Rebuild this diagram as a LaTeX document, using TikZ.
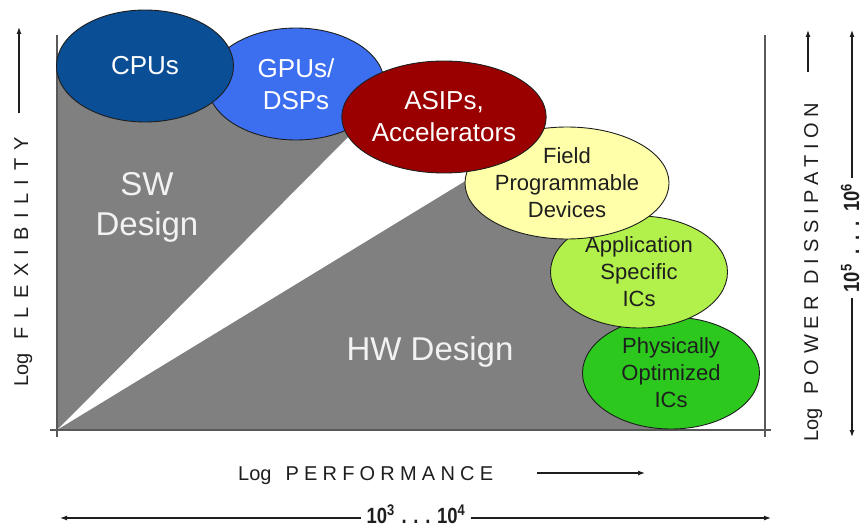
\documentclass[tikz,border=0pt]{standalone}
\usepackage{fontspec}
\usepackage{graphicx}
\setmainfont{Liberation Sans}
\usetikzlibrary{shapes.geometric,arrows.meta}
\definecolor{cpuc}{RGB}{10,78,150}
\definecolor{gpuc}{RGB}{60,110,240}
\definecolor{asipc}{RGB}{155,0,0}
\definecolor{fpgac}{RGB}{255,255,170}
\definecolor{asicc}{RGB}{178,240,75}
\definecolor{physc}{RGB}{45,200,30}
\definecolor{areac}{RGB}{128,128,128}
\definecolor{inkc}{RGB}{30,30,30}
\newcommand\narrowtxt[1]{\scalebox{0.84}[1]{#1}}
\newcommand\rngsep{\hspace{8pt}}
\newcommand\rngsepv{\hspace{11pt}}
\begin{document}
\begin{tikzpicture}[x=1pt,y=-1pt,
  blob/.style={ellipse, draw=inkc, line width=0.9pt, minimum width=177pt, minimum height=112pt, inner sep=0pt, align=center},
  wtext/.style={text=white, font=\fontsize{26}{32}\selectfont},
  btext/.style={text=inkc, font=\fontsize{22}{27}\selectfont},
  design/.style={text=white!95!black, align=center, font=\fontsize{33}{40}\selectfont},
  axisline/.style={draw=black!65, line width=1.1pt},
  arr/.style={draw=inkc, line width=1.2pt, -{Latex[length=7pt,width=5pt]}},
  axlabel/.style={text=inkc, font=\fontsize{20}{20}\selectfont, inner sep=0pt},
  rangelabel/.style={text=inkc, font=\bfseries\fontsize{22}{22}\selectfont, inner sep=5pt}
]
\useasboundingbox (0,0) rectangle (865,527);
% gray design areas
\fill[areac] (57,430) -- (57,66) -- (145,66) -- (296,84) -- (358,127) -- cycle;
\fill[areac] (57,430) -- (490,166) -- (567,183) -- (639,272) -- (671,373) -- (671,430) -- cycle;
% axes
\coordinate (o) at (57,437);
\coordinate (ytop) at (57,35);
\coordinate (xl) at (50,430);
\coordinate (xr) at (771,430);
\coordinate (rb) at (765,437);
\coordinate (rt) at (765,35);
\draw[axisline] (o) -- (ytop);
\draw[axisline] (xl) -- (xr);
\draw[axisline] (rb) -- (rt);
% ellipses
\node[blob, fill=physc, btext] (phys) at (671,373) {Physically\\Optimized\\ICs};
\node[blob, fill=asicc, btext] (asic) at (639,272) {Application\\Specific\\ICs};
\node[blob, fill=fpgac, btext] (fpga) at (567,183) {Field\\Programmable\\Devices};
\node[blob, fill=gpuc, wtext] (gpu) at (296,84) {GPUs/\\DSPs};
\node[blob, fill=asipc, wtext] (asip) at (444,117) {ASIPs,\\Accelerators};
\node[blob, fill=cpuc, wtext] (cpu) at (145,66) {CPUs};
% design labels
\node[design] (sw) at (147,207) {SW\\Design};
\node[design, anchor=base] (hw) at (430,360) {HW Design};
% left axis label
\node[axlabel, rotate=90, anchor=base west] (flex) at (28,387) {Log\hspace{14pt}{\addfontfeature{LetterSpace=43}FLEXIBILITY}};
\coordinate (fa) at (19,113);
\coordinate (fb) at (19,27);
\draw[arr] (fa) -- (fb);
% bottom axis label
\node[axlabel, anchor=base west] (perf) at (238,480) {Log\hspace{14pt}{\addfontfeature{LetterSpace=26}PERFORMANCE}};
\coordinate (pa) at (537,473);
\coordinate (pb) at (645,473);
\draw[arr] (pa) -- (pb);
% right axis label
\node[axlabel, rotate=90, anchor=base west] (pow) at (818,442) {Log\hspace{14pt}{\addfontfeature{LetterSpace=29}POWER DISSIPATION}};
\coordinate (qa) at (808,72);
\coordinate (qb) at (808,30);
\draw[arr] (qa) -- (qb);
% ranges
\node[rangelabel] (hr) at (416,514) {\narrowtxt{10\textsuperscript{3}\rngsep.\rngsep.\rngsep.\rngsep10\textsuperscript{4}}};
\coordinate (hl) at (60,518);
\coordinate (hrr) at (771,518);
\draw[arr] (hr.west |- hl) -- (hl);
\draw[arr] (hr.east |- hrr) -- (hrr);
\node[rangelabel, rotate=90] (vr) at (850,238) {\narrowtxt{10\textsuperscript{5}\rngsepv.\rngsepv.\rngsepv.\rngsepv10\textsuperscript{6}}};
\coordinate (vt) at (852,30);
\coordinate (vb) at (852,437);
\draw[arr] (vr.east -| vt) -- (vt);
\draw[arr] (vr.west -| vb) -- (vb);
\end{tikzpicture}
\end{document}
